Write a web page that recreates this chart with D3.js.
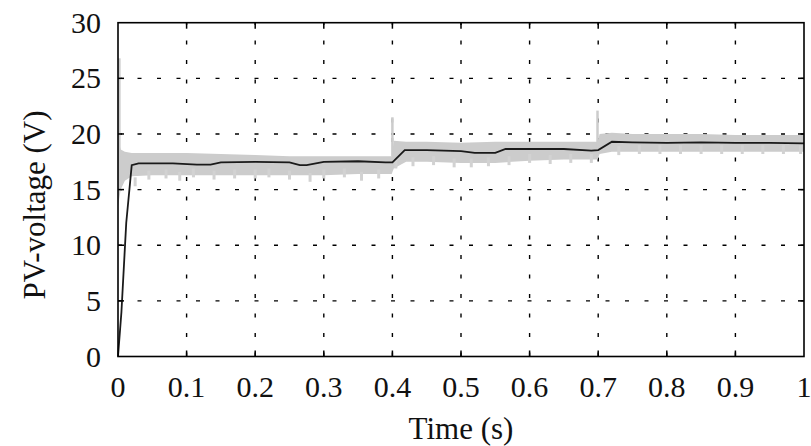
<!DOCTYPE html>
<html>
<head>
<meta charset="utf-8">
<script src="https://cdn.jsdelivr.net/npm/d3@7"></script>
<style>
  body { margin: 0; background: #fff; }
  text { font-family: "Liberation Serif", "Times New Roman", serif; fill: #111; }
</style>
</head>
<body>
<div id="chart"></div>
<script>
// tick values
const xTicks = [0, 0.1, 0.2, 0.3, 0.4, 0.5, 0.6, 0.7, 0.8, 0.9, 1];
const yTicks = [0, 5, 10, 15, 20, 25, 30];

// grey (measured) band: envelope of the noisy PV-voltage
const bandTime = [0, 0.004, 0.01, 0.02, 0.05, 0.1, 0.15, 0.2, 0.25, 0.3, 0.35, 0.399, 0.402, 0.42, 0.45, 0.5, 0.55, 0.6, 0.65, 0.699, 0.702, 0.72, 0.75, 0.8, 0.85, 0.9, 0.95, 1.0];
const bandHigh = [19.5, 18.6, 18.4, 18.3, 18.3, 18.3, 18.2, 18.1, 18.0, 18.0, 18.0, 18.0, 19.4, 19.3, 19.3, 19.2, 19.3, 19.3, 19.3, 19.3, 20.0, 20.1, 20.0, 20.0, 20.0, 19.9, 19.9, 19.9];
const bandLow  = [13.5, 15.0, 15.8, 16.2, 16.3, 16.3, 16.3, 16.3, 16.3, 16.3, 16.4, 16.4, 16.9, 17.5, 17.5, 17.4, 17.4, 17.6, 17.7, 17.7, 18.2, 18.4, 18.4, 18.4, 18.4, 18.4, 18.4, 18.4];

// short upward transients (time, peak)
const spikes = [[0.002, 26.8], [0.4, 21.5], [0.699, 22.1]];

// short downward ripples (time, bottom)
const ripples = [
  [0.025, 15.3], [0.045, 15.9], [0.07, 16.0], [0.09, 15.8], [0.11, 16.1], [0.14, 15.9], [0.17, 16.0],
  [0.2, 16.0], [0.22, 16.1], [0.25, 15.9], [0.28, 15.7], [0.3, 16.0], [0.33, 16.1], [0.355, 15.8], [0.38, 16.0],
  [0.405, 16.9], [0.43, 17.1], [0.46, 17.2], [0.49, 17.0], [0.515, 17.0], [0.54, 17.1], [0.57, 17.2],
  [0.6, 17.4], [0.63, 17.3], [0.66, 17.4], [0.69, 17.4],
  [0.73, 18.1], [0.76, 18.2], [0.79, 18.2], [0.82, 18.2], [0.85, 18.2], [0.88, 18.2], [0.91, 18.2],
  [0.94, 18.2], [0.97, 18.2], [0.995, 18.2]
];

// black (mean) PV-voltage trace
const lineTime  = [0, 0.005, 0.012, 0.02, 0.03, 0.08, 0.115, 0.135, 0.15, 0.2, 0.25, 0.265, 0.275, 0.3, 0.35, 0.39, 0.4, 0.418, 0.45, 0.5, 0.52, 0.55, 0.565, 0.6, 0.65, 0.69, 0.7, 0.72, 0.75, 0.8, 0.85, 0.9, 0.95, 1.0];
const lineValue = [0, 4, 12, 17.2, 17.35, 17.35, 17.25, 17.25, 17.45, 17.5, 17.45, 17.2, 17.2, 17.5, 17.55, 17.45, 17.45, 18.55, 18.55, 18.45, 18.3, 18.3, 18.65, 18.65, 18.65, 18.5, 18.55, 19.3, 19.25, 19.2, 19.25, 19.2, 19.2, 19.15];

const WIDTH = 811, HEIGHT = 446;
const L = 118, R = 804, T = 22.7, B = 356.5;

const svg = d3.select("#chart")
  .append("svg")
    .attr("width", WIDTH)
    .attr("height", HEIGHT);

const x = d3.scaleLinear().domain([0, 1]).range([L, R]);
const y = d3.scaleLinear().domain([0, 30]).range([B, T]);

// dotted grid
const grid = svg.append("g")
  .attr("stroke", "#000")
  .attr("stroke-width", 1.4)
  .attr("stroke-dasharray", "4,15.5");
grid.selectAll(".vg")
  .data(xTicks.slice(1, -1))
  .join("line")
    .attr("x1", d => x(d)).attr("x2", d => x(d))
    .attr("y1", B).attr("y2", T);
grid.selectAll(".hg")
  .data(yTicks.slice(1, -1))
  .join("line")
    .attr("x1", L).attr("x2", R)
    .attr("y1", d => y(d)).attr("y2", d => y(d));

// grey band
const band = bandTime.map((t, i) => ({ t: t, hi: bandHigh[i], lo: bandLow[i] }));
svg.append("path")
  .datum(band)
  .attr("fill", "#cccccc")
  .attr("d", d3.area().x(d => x(d.t)).y0(d => y(d.lo)).y1(d => y(d.hi)));

svg.append("g")
  .attr("stroke", "#cccccc")
  .attr("stroke-width", 2.5)
  .selectAll("line")
  .data(spikes)
  .join("line")
    .attr("x1", d => x(d[0])).attr("x2", d => x(d[0]))
    .attr("y1", y(18)).attr("y2", d => y(d[1]));

svg.append("g")
  .attr("stroke", "#d2d2d2")
  .attr("stroke-width", 3)
  .selectAll("line")
  .data(ripples)
  .join("line")
    .attr("x1", d => x(d[0])).attr("x2", d => x(d[0]))
    .attr("y1", d => y(d[1] + 0.8)).attr("y2", d => y(d[1]));

// black mean trace
svg.append("path")
  .datum(lineTime.map((t, i) => [t, lineValue[i]]))
  .attr("fill", "none")
  .attr("stroke", "#1a1a1a")
  .attr("stroke-width", 1.8)
  .attr("d", d3.line().x(d => x(d[0])).y(d => y(d[1])));

// frame
svg.append("rect")
  .attr("x", L).attr("y", T)
  .attr("width", R - L).attr("height", B - T)
  .attr("fill", "none")
  .attr("stroke", "#000")
  .attr("stroke-width", 1.6);

// inward ticks, mirrored
const ticks = svg.append("g").attr("stroke", "#000").attr("stroke-width", 1.5);
xTicks.slice(1, -1).forEach(d => {
  ticks.append("line").attr("x1", x(d)).attr("x2", x(d)).attr("y1", B).attr("y2", B - 6);
  ticks.append("line").attr("x1", x(d)).attr("x2", x(d)).attr("y1", T).attr("y2", T + 6);
});
yTicks.slice(1, -1).forEach(d => {
  ticks.append("line").attr("x1", L).attr("x2", L + 6).attr("y1", y(d)).attr("y2", y(d));
  ticks.append("line").attr("x1", R).attr("x2", R - 6).attr("y1", y(d)).attr("y2", y(d));
});

// tick labels
svg.append("g")
  .selectAll("text")
  .data(xTicks)
  .join("text")
    .attr("x", d => x(d))
    .attr("y", B + 40)
    .attr("text-anchor", "middle")
    .attr("font-size", 30)
    .text(d => d3.format("~g")(d));

svg.append("g")
  .selectAll("text")
  .data(yTicks)
  .join("text")
    .attr("x", L - 17)
    .attr("y", d => y(d) + 10)
    .attr("text-anchor", "end")
    .attr("font-size", 30)
    .text(d => d);

// axis titles
svg.append("text")
  .attr("x", (L + R) / 2)
  .attr("y", 439)
  .attr("text-anchor", "middle")
  .attr("font-size", 31)
  .text("Time (s)");

svg.append("text")
  .attr("transform", `translate(45, 205) rotate(-90)`)
  .attr("text-anchor", "middle")
  .attr("font-size", 31)
  .text("PV-voltage (V)");
</script>
</body>
</html>
